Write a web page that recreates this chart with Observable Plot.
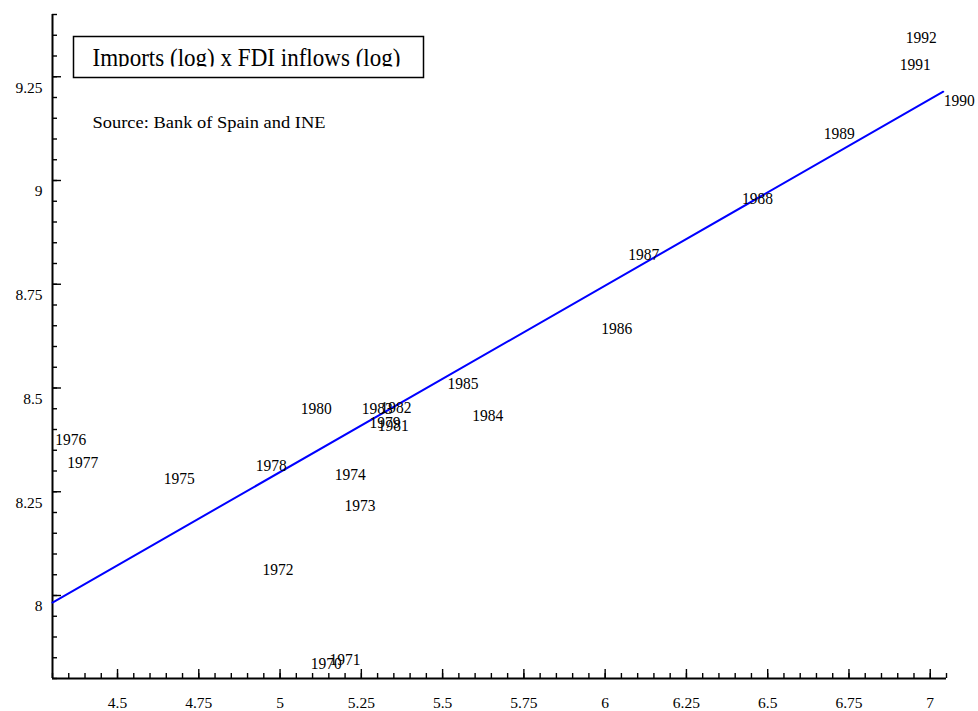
<!DOCTYPE html>
<html>
<head>
<meta charset="utf-8">
<script src="https://cdn.jsdelivr.net/npm/d3@7"></script>
<script src="https://cdn.jsdelivr.net/npm/@observablehq/plot@0.6"></script>
<style>
  html, body { margin: 0; padding: 0; background: #fff; }
  #chart svg { display: block; }
</style>
</head>
<body>
<div id="chart"></div>
<script>
// Spain 1970–1992: imports (log) against FDI inflows (log), one year label per observation
const years = [1970, 1971, 1972, 1973, 1974, 1975, 1976, 1977, 1978, 1979, 1980,
               1981, 1982, 1983, 1984, 1985, 1986, 1987, 1988, 1989, 1990, 1991, 1992];
const fdiLog = [5.142, 5.200, 4.994, 5.246, 5.216, 4.690, 4.356, 4.393, 4.973, 5.323, 5.111,
                5.348, 5.357, 5.299, 5.639, 5.563, 6.036, 6.119, 6.469, 6.720, 7.089, 6.954, 6.972];
const importsLog = [7.837, 7.846, 8.063, 8.216, 8.293, 8.281, 8.375, 8.320, 8.313, 8.418, 8.452,
                    8.409, 8.454, 8.452, 8.433, 8.512, 8.644, 8.822, 8.957, 9.113, 9.192, 9.279, 9.346];

// fitted regression line, evaluated at its two ends
const fitX = [4.30, 7.04];
const fitY = [7.983, 9.214];

// axis tick labels
const xTickLabels = [4.5, 4.75, 5, 5.25, 5.5, 5.75, 6, 6.25, 6.5, 6.75, 7];
const yTickLabels = [8, 8.25, 8.5, 8.75, 9, 9.25];

const titleText = "Imports (log) x FDI inflows (log)";
const sourceText = "Source: Bank of Spain and INE";

const points = years.map((yr, i) => ({year: yr, x: fdiLog[i], y: importsLog[i]}));
const fit = fitX.map((x, i) => ({x, y: fitY[i]}));

const W = 978, H = 711;
const mL = 52, mR = 32, mT = 14, mB = 33;
const frameW = W - mL - mR, frameH = H - mT - mB;
const serif = "'Liberation Serif', 'Times New Roman', serif";

const xMinor = d3.range(86, 142).map(k => k / 20);        // every 0.05 from 4.30 to 7.05
const yMinor = d3.range(156, 189).map(k => k / 20);       // every 0.05 from 7.80 to 9.40

const chart = Plot.plot({
  width: W,
  height: H,
  marginLeft: mL, marginRight: mR, marginTop: mT, marginBottom: mB,
  x: {domain: [4.3, 7.05], axis: null},
  y: {domain: [7.8, 9.4], axis: null},
  style: {background: "#fff", fontFamily: serif, color: "#000"},
  marks: [
    // axis lines
    Plot.ruleY([7.8], {stroke: "#000", strokeWidth: 2}),
    Plot.ruleX([4.3], {stroke: "#000", strokeWidth: 2}),
    // inward tick marks
    Plot.tickX(xMinor, {x: d => d, insetTop: frameH - 5, stroke: "#000", strokeWidth: 1.4}),
    Plot.tickX(xTickLabels, {x: d => d, insetTop: frameH - 9, stroke: "#000", strokeWidth: 1.4}),
    Plot.tickY(yMinor, {y: d => d, insetRight: frameW - 5, stroke: "#000", strokeWidth: 1.4}),
    Plot.tickY(yTickLabels, {y: d => d, insetRight: frameW - 9, stroke: "#000", strokeWidth: 1.4}),
    // tick labels
    Plot.text(xTickLabels, {x: d => d, text: d => String(d), frameAnchor: "bottom", dy: 25,
      lineAnchor: "middle", fontSize: 15.5, fill: "#000"}),
    Plot.text(yTickLabels, {y: d => d, text: d => String(d), frameAnchor: "left", dx: -10, dy: 11,
      textAnchor: "end", lineAnchor: "middle", fontSize: 15.5, fill: "#000"}),
    // legend box and source note
    Plot.frame({insetLeft: 21, insetRight: frameW - 371, insetTop: 22, insetBottom: frameH - 63,
      stroke: "#000", strokeWidth: 1.5}),
    Plot.text([titleText], {frameAnchor: "top-left", dx: 40, dy: 43, textAnchor: "start",
      lineAnchor: "middle", fontSize: 25, fill: "#000"}),
    Plot.text([sourceText], {frameAnchor: "top-left", dx: 40, dy: 108, textAnchor: "start",
      lineAnchor: "middle", fontSize: 16.5, fill: "#000"}),
    // regression line
    Plot.line(fit, {x: "x", y: "y", stroke: "#0000ff", strokeWidth: 2}),
    // observations, labelled by year
    Plot.text(points, {x: "x", y: "y", text: d => String(d.year), fontSize: 17.5,
      lineAnchor: "middle", fill: "#000"})
  ]
});

document.getElementById("chart").appendChild(chart);

// narrow typeface look: squeeze the serif glyphs to fixed widths
const svg = d3.select(chart);
let titleNode = null;
svg.selectAll("text").each(function () {
  const t = this.textContent;
  if (/^\d{4}$/.test(t)) {
    d3.select(this).attr("textLength", 31).attr("lengthAdjust", "spacingAndGlyphs");
  } else if (t === titleText) {
    d3.select(this).attr("textLength", 308).attr("lengthAdjust", "spacingAndGlyphs");
    titleNode = this;
  } else if (t === sourceText) {
    d3.select(this).attr("textLength", 233).attr("lengthAdjust", "spacingAndGlyphs");
  }
});

// the title line is cut off just below its baseline: wrap its mark group in a
// root-level group so the clip rectangle is in the chart's own coordinates
svg.append("defs").append("clipPath").attr("id", "title-clip")
  .attr("clipPathUnits", "userSpaceOnUse")
  .append("rect").attr("x", 0).attr("y", 0).attr("width", W).attr("height", 66.5);
if (titleNode) {
  const markGroup = titleNode.parentNode;
  const wrap = svg.append("g").attr("clip-path", "url(#title-clip)").node();
  markGroup.parentNode.insertBefore(wrap, markGroup);
  wrap.appendChild(markGroup);
}
</script>
</body>
</html>
